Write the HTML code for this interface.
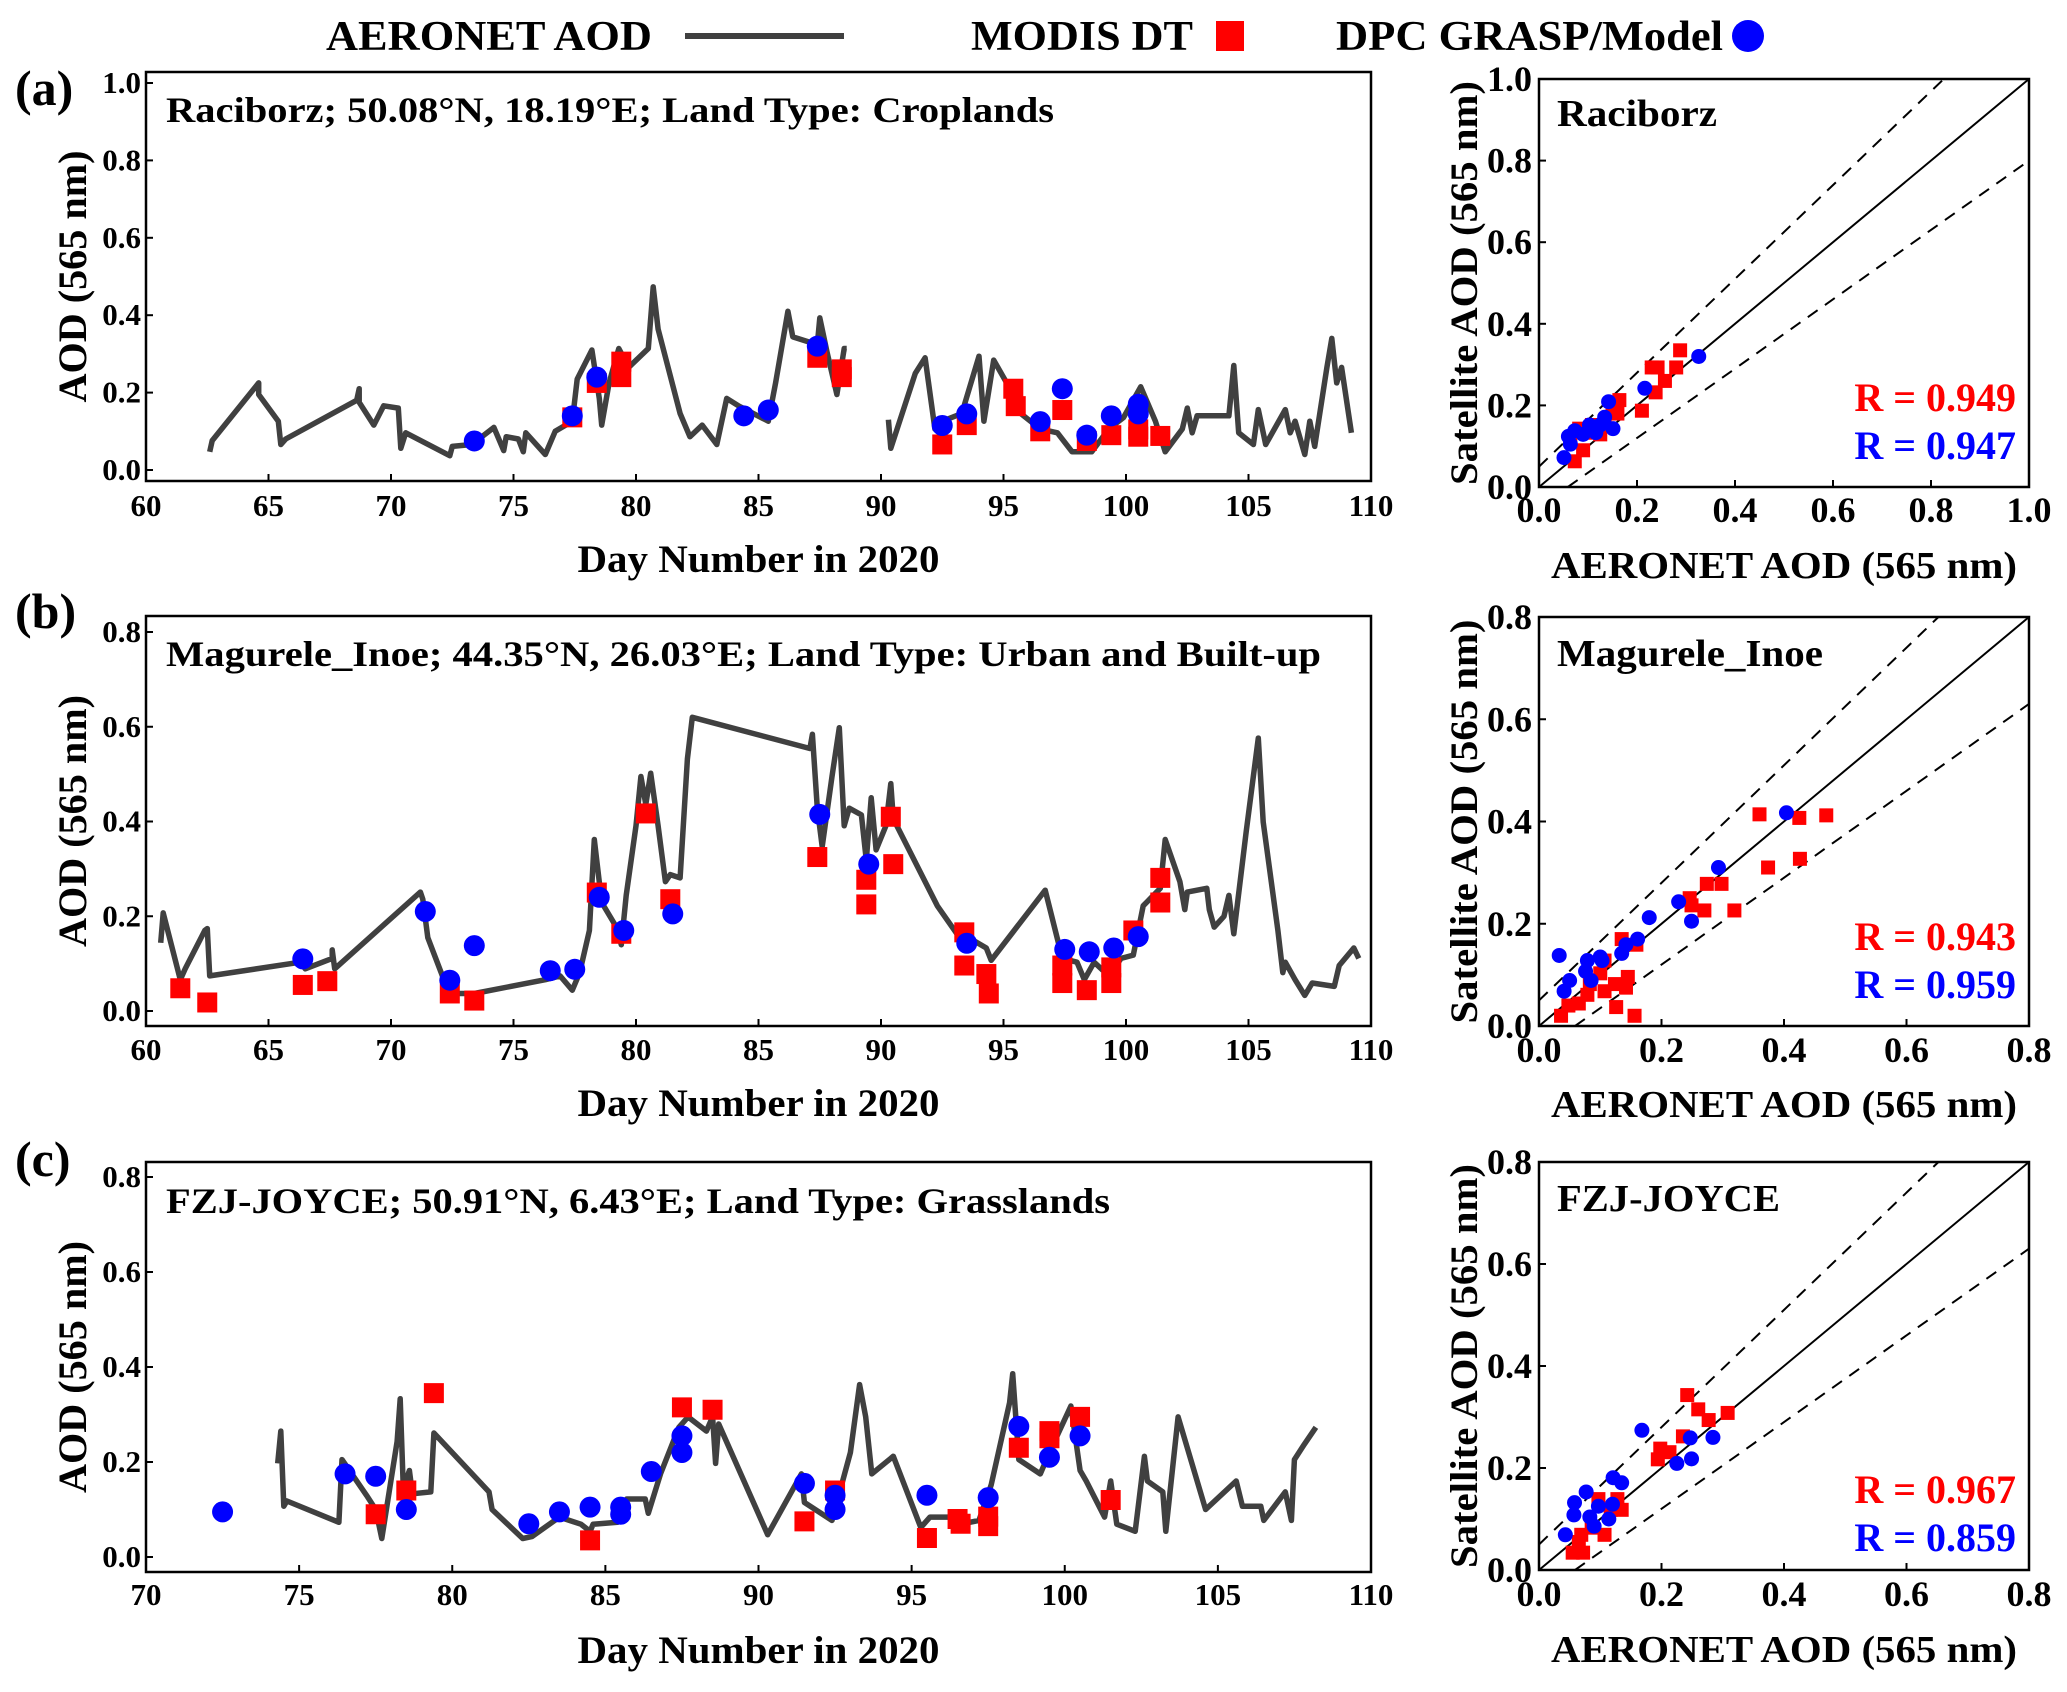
<!DOCTYPE html>
<html><head><meta charset="utf-8">
<style>
html,body{margin:0;padding:0;background:#fff;}
svg{display:block;font-family:"Liberation Serif","Times New Roman",serif;font-weight:bold;}
</style></head>
<body>
<svg id="fig" width="2067" height="1692" viewBox="0 0 2067 1692" xmlns="http://www.w3.org/2000/svg">
  <rect x="0" y="0" width="2067" height="1692" fill="#fff"/>
  <g>
    <text x="326" y="50" font-size="42" textLength="326" lengthAdjust="spacingAndGlyphs">AERONET AOD</text>
    <line x1="685" y1="36" x2="844" y2="36" stroke="#404040" stroke-width="6"/>
    <text x="971" y="50" font-size="42" textLength="222" lengthAdjust="spacingAndGlyphs">MODIS DT</text>
    <rect x="1216" y="21" width="28" height="30" fill="#ff0000"/>
    <text x="1336" y="50" font-size="42" textLength="387" lengthAdjust="spacingAndGlyphs">DPC GRASP/Model</text>
    <circle cx="1748" cy="36" r="16" fill="#0000ff"/>
  </g>
  <g id="plots"></g>
</svg>
<script>
// ---------- Panel (a) Raciborz ----------
const aDays = [62.6,62.7,64.6,64.6,65.4,65.5,65.7,68.6,68.7,68.7,69.3,69.7,70.3,70.4,70.6,72.4,72.5,73.3,74.2,74.6,74.7,75.2,75.4,75.5,76.3,76.7,77.4,77.6,78.2,78.5,78.6,78.9,79.3,79.7,80.5,80.7,80.9,81.8,82.2,82.7,83.3,83.7,84.2,85.4,85.7,86.2,86.4,87.4,87.5,87.8,88.2,88.5,88.6,null,90.3,90.4,91.4,91.8,92.2,92.5,93.3,94.0,94.2,94.6,95.4,95.7,96.5,97.2,97.8,98.6,99.3,99.9,100.6,101.2,101.6,102.3,102.5,102.7,102.9,104.2,104.4,104.6,105.2,105.4,105.7,106.5,106.7,106.9,107.3,107.5,107.7,108.2,108.4,108.6,108.8,109.2];
const aAod = [0.047,0.076,0.225,0.195,0.126,0.066,0.08,0.18,0.21,0.175,0.116,0.166,0.16,0.056,0.096,0.037,0.061,0.066,0.11,0.05,0.086,0.08,0.047,0.096,0.04,0.1,0.126,0.235,0.31,0.185,0.116,0.225,0.314,0.265,0.314,0.473,0.364,0.146,0.086,0.116,0.066,0.185,0.165,0.126,0.225,0.41,0.344,0.324,0.393,0.304,0.195,0.314,0.314,null,0.13,0.056,0.25,0.29,0.106,0.126,0.146,0.294,0.126,0.284,0.195,0.146,0.106,0.096,0.047,0.047,0.106,0.136,0.215,0.126,0.047,0.106,0.16,0.096,0.14,0.14,0.27,0.096,0.066,0.156,0.066,0.156,0.096,0.126,0.04,0.126,0.061,0.265,0.34,0.225,0.265,0.096];
const aModisDays = [77.4,78.4,79.4,79.4,87.4,88.4,88.4,92.5,93.5,95.4,95.5,96.5,97.4,98.4,99.4,100.5,100.5,101.4];
const aModisAod = [0.136,0.225,0.24,0.28,0.29,0.24,0.26,0.066,0.116,0.21,0.165,0.1,0.155,0.075,0.09,0.086,0.105,0.088];
const aDpcDays = [73.4,77.4,78.4,84.4,85.4,87.4,92.5,93.5,96.5,97.4,98.4,99.4,100.5,100.5];
const aDpcAod = [0.075,0.14,0.24,0.14,0.155,0.32,0.115,0.145,0.125,0.21,0.09,0.14,0.145,0.17];
const aScModisX = [0.073,0.09,0.1,0.125,0.134,0.16,0.164,0.15,0.21,0.23,0.242,0.238,0.257,0.28,0.288,0.082,0.064,0.108];
const aScModisY = [0.063,0.09,0.133,0.129,0.152,0.18,0.213,0.2,0.187,0.293,0.293,0.232,0.26,0.293,0.335,0.143,0.115,0.152];
const aScDpcX = [0.051,0.064,0.073,0.09,0.103,0.116,0.134,0.142,0.151,0.216,0.326,0.125,0.06];
const aScDpcY = [0.072,0.105,0.138,0.129,0.152,0.133,0.171,0.209,0.143,0.242,0.32,0.152,0.124];

// ---------- Panel (b) Magurele_Inoe ----------
const bDays = [60.6,60.7,61.4,61.6,62.4,62.5,62.6,66.3,66.5,67.6,67.6,67.7,71.2,71.3,71.5,72.1,72.5,73.4,76.3,76.9,77.4,77.7,78.1,78.3,78.6,79.2,79.4,79.6,80.0,80.2,80.4,80.6,80.9,81.2,81.4,81.8,82.1,82.3,87.1,87.2,87.4,87.6,88.0,88.3,88.5,88.7,89.2,89.4,89.6,89.8,90.2,90.4,90.5,92.3,93.1,93.8,94.3,94.5,96.7,97.4,98.0,98.3,98.7,99.3,99.8,100.3,100.7,101.4,101.6,102.2,102.4,102.5,103.3,103.4,103.6,104.0,104.2,104.4,104.9,105.4,105.6,106.2,106.4,106.5,106.9,107.3,107.6,108.5,108.7,109.3,109.5];
const bAod = [0.144,0.207,0.066,0.089,0.17,0.174,0.074,0.103,0.089,0.111,0.129,0.089,0.251,0.236,0.155,0.074,0.037,0.037,0.066,0.074,0.044,0.081,0.17,0.362,0.229,0.177,0.14,0.244,0.391,0.495,0.436,0.502,0.391,0.273,0.288,0.281,0.532,0.62,0.554,0.584,0.428,0.347,0.495,0.598,0.391,0.428,0.414,0.318,0.45,0.34,0.391,0.48,0.406,0.222,0.163,0.148,0.133,0.107,0.255,0.111,0.103,0.066,0.103,0.074,0.111,0.118,0.222,0.259,0.362,0.273,0.214,0.251,0.259,0.214,0.177,0.2,0.244,0.163,0.377,0.576,0.399,0.17,0.081,0.103,0.066,0.033,0.059,0.052,0.096,0.133,0.111];
const bModisDays = [61.4,62.5,66.4,67.4,72.4,73.4,78.4,79.4,80.4,81.4,87.4,89.4,89.4,90.4,90.5,93.4,93.4,94.3,94.4,97.4,97.4,98.4,99.4,99.4,100.3,101.4,101.4];
const bModisAod = [0.048,0.018,0.055,0.063,0.037,0.022,0.25,0.163,0.417,0.236,0.325,0.277,0.225,0.41,0.31,0.166,0.096,0.078,0.037,0.096,0.059,0.044,0.092,0.059,0.17,0.229,0.281];
const bDpcDays = [66.4,71.4,72.4,73.4,76.5,77.5,78.5,79.5,81.5,87.5,89.5,93.5,97.5,98.5,99.5,100.5];
const bDpcAod = [0.11,0.21,0.065,0.138,0.085,0.088,0.24,0.17,0.205,0.415,0.31,0.143,0.13,0.125,0.133,0.157];
const bScModisX = [0.036,0.048,0.065,0.079,0.083,0.1,0.107,0.107,0.124,0.126,0.142,0.145,0.156,0.135,0.159,0.246,0.249,0.27,0.274,0.298,0.319,0.374,0.36,0.425,0.426,0.469];
const bScModisY = [0.02,0.04,0.044,0.061,0.082,0.103,0.128,0.068,0.082,0.037,0.075,0.096,0.02,0.17,0.159,0.25,0.236,0.226,0.278,0.278,0.226,0.31,0.414,0.407,0.327,0.412];
const bScDpcX = [0.033,0.041,0.05,0.076,0.079,0.085,0.1,0.103,0.135,0.142,0.161,0.18,0.228,0.249,0.293,0.404];
const bScDpcY = [0.138,0.068,0.089,0.107,0.128,0.089,0.135,0.128,0.142,0.159,0.17,0.212,0.243,0.205,0.31,0.417];

// ---------- Panel (c) FZJ-JOYCE ----------
const cDays = [74.3,74.4,74.5,74.6,76.3,76.4,77.2,77.5,77.7,78.2,78.3,78.4,78.6,78.7,79.3,79.4,81.2,81.3,82.3,82.6,83.5,84.2,84.5,84.6,85.4,85.7,86.3,86.4,86.8,87.4,87.7,88.3,88.5,88.6,88.7,90.3,91.4,91.5,92.4,93.0,93.3,93.5,93.7,94.4,95.3,95.6,96.2,96.9,97.2,97.6,98.2,98.3,98.5,99.2,99.5,100.2,100.5,100.7,101.3,101.5,101.7,102.3,102.6,102.7,103.2,103.3,103.7,104.6,105.6,105.8,106.4,106.5,107.2,107.4,107.5,107.8,108.2];
const cAod = [0.197,0.265,0.107,0.118,0.073,0.205,0.13,0.1,0.039,0.243,0.333,0.145,0.182,0.133,0.137,0.261,0.137,0.1,0.039,0.043,0.084,0.069,0.054,0.069,0.073,0.122,0.122,0.092,0.175,0.273,0.295,0.265,0.295,0.197,0.28,0.047,0.175,0.115,0.077,0.22,0.363,0.295,0.175,0.212,0.062,0.084,0.084,0.073,0.077,0.152,0.325,0.386,0.205,0.175,0.22,0.318,0.182,0.16,0.084,0.16,0.069,0.054,0.212,0.16,0.137,0.054,0.295,0.1,0.16,0.107,0.107,0.077,0.137,0.077,0.205,0.235,0.273];
const cModisDays = [77.5,78.5,79.4,84.5,87.5,88.5,91.5,92.5,95.5,96.5,96.6,97.5,97.5,98.5,99.5,99.5,100.5,101.5];
const cModisAod = [0.09,0.14,0.345,0.035,0.315,0.31,0.075,0.14,0.04,0.08,0.07,0.085,0.065,0.23,0.25,0.265,0.295,0.12];
const cDpcDays = [72.5,76.5,77.5,78.5,82.5,83.5,84.5,85.5,85.5,86.5,87.5,87.5,91.5,92.5,92.5,95.5,97.5,98.5,99.5,100.5];
const cDpcAod = [0.095,0.175,0.17,0.1,0.07,0.095,0.105,0.09,0.105,0.18,0.22,0.255,0.155,0.13,0.1,0.13,0.125,0.275,0.21,0.255];
const cScModisX = [0.055,0.072,0.069,0.086,0.097,0.107,0.117,0.128,0.135,0.194,0.198,0.213,0.235,0.242,0.26,0.277,0.308,0.065];
const cScModisY = [0.034,0.034,0.069,0.083,0.139,0.069,0.118,0.139,0.118,0.217,0.238,0.231,0.262,0.343,0.315,0.294,0.308,0.055];
const cScDpcX = [0.043,0.057,0.058,0.077,0.083,0.09,0.097,0.114,0.12,0.121,0.135,0.168,0.225,0.247,0.249,0.284];
const cScDpcY = [0.069,0.108,0.132,0.153,0.104,0.086,0.125,0.1,0.129,0.181,0.171,0.274,0.209,0.259,0.218,0.26];

const rModis = ["R = 0.949","R = 0.943","R = 0.967"];
const rDpc = ["R = 0.947","R = 0.959","R = 0.859"];
const tsTitles = ["Raciborz; 50.08°N, 18.19°E; Land Type: Croplands","Magurele_Inoe; 44.35°N, 26.03°E; Land Type: Urban and Built-up","FZJ-JOYCE; 50.91°N, 6.43°E; Land Type: Grasslands"];
const stations = ["Raciborz","Magurele_Inoe","FZJ-JOYCE"];
const panelLetters = ["(a)","(b)","(c)"];
const yTicksA = [0,0.2,0.4,0.6,0.8,1.0];
const yTicksBC = [0,0.2,0.4,0.6,0.8];
const xTicksAB = [60,65,70,75,80,85,90,95,100,105,110];
const xTicksC = [70,75,80,85,90,95,100,105,110];

const NS = "http://www.w3.org/2000/svg";
const root = document.getElementById("plots");
function mk(tag, attrs, parent){const e=document.createElementNS(NS,tag);for(const k in attrs)e.setAttribute(k,attrs[k]);(parent||root).appendChild(e);return e;}
function txt(s, attrs, parent){const e=mk("text",attrs,parent);e.textContent=s;return e;}

const stationW=[160,266,223];
const layouts = [
 {top:72,bottom:481,y0:470,yTopV:1.0,yTopPx:83,xmin:60,xmax:110,xTicks:xTicksAB,yTicks:yTicksA,letterY:105,titleY:122,titleW:888,tickBase:516,labBase:572,
  sTop:79,sBottom:487,sMax:1.0,stY:126,r1:411,r2:459,sxBase:522,sLabBase:578,
  days:aDays,aod:aAod,md:aModisDays,ma:aModisAod,dd:aDpcDays,da:aDpcAod,smx:aScModisX,smy:aScModisY,sdx:aScDpcX,sdy:aScDpcY},
 {top:616,bottom:1026,y0:1011,yTopV:0.8,yTopPx:632,xmin:60,xmax:110,xTicks:xTicksAB,yTicks:yTicksBC,letterY:628,titleY:666,titleW:1155,tickBase:1060,labBase:1116,
  sTop:617,sBottom:1026,sMax:0.8,stY:666,r1:950,r2:998,sxBase:1062,sLabBase:1117,
  days:bDays,aod:bAod,md:bModisDays,ma:bModisAod,dd:bDpcDays,da:bDpcAod,smx:bScModisX,smy:bScModisY,sdx:bScDpcX,sdy:bScDpcY},
 {top:1162,bottom:1572,y0:1557,yTopV:0.8,yTopPx:1177,xmin:70,xmax:110,xTicks:xTicksC,yTicks:yTicksBC,letterY:1176,titleY:1213,titleW:944,tickBase:1605,labBase:1663,
  sTop:1162,sBottom:1570,sMax:0.8,stY:1211,r1:1503,r2:1551,sxBase:1606,sLabBase:1662,
  days:cDays,aod:cAod,md:cModisDays,ma:cModisAod,dd:cDpcDays,da:cDpcAod,smx:cScModisX,smy:cScModisY,sdx:cScDpcX,sdy:cScDpcY}
];
const L=146,R=1371,SL=1539,SR=2029;
const pn=["a","b","c"];

layouts.forEach((p,i)=>{
  const g=mk("g",{});
  
  
  const xs=d=>L+(d-p.xmin)/(p.xmax-p.xmin)*(R-L);
  const ys=v=>p.y0-(v/p.yTopV)*(p.y0-p.yTopPx);
  const let_=txt(panelLetters[i],{x:15,y:p.letterY,"font-size":50},g);
  
  
  const fr=mk("rect",{x:L,y:p.top,width:R-L,height:p.bottom-p.top,fill:"none",stroke:"#000","stroke-width":2.5},g);
  
  
  p.yTicks.forEach(v=>{
    const y=ys(v);
    mk("line",{x1:L,y1:y,x2:L+7,y2:y,stroke:"#000","stroke-width":2},g);
    const t=txt(v.toFixed(1),{x:141,y:y+10,"font-size":31,"text-anchor":"end"},g);
    
    
  });
  p.xTicks.forEach(v=>{
    const x=xs(v);
    mk("line",{x1:x,y1:p.bottom,x2:x,y2:p.bottom-7,stroke:"#000","stroke-width":2},g);
    const t=txt(String(v),{x:x,y:p.tickBase,"font-size":31,"text-anchor":"middle"},g);
    
    
  });
  const tt=txt(tsTitles[i],{x:166,y:p.titleY,"font-size":36,textLength:p.titleW,lengthAdjust:"spacingAndGlyphs"},g);
  
  
  const xl=txt("Day Number in 2020",{x:(L+R)/2,y:p.labBase,"font-size":39,"text-anchor":"middle",textLength:362,lengthAdjust:"spacingAndGlyphs"},g);
  
  
  const yc=(p.top+p.bottom)/2;
  const yl=txt("AOD (565 nm)",{x:0,y:0,"font-size":40,"text-anchor":"middle",textLength:252,lengthAdjust:"spacingAndGlyphs",transform:`translate(86,${yc}) rotate(-90)`},g);
  
  
  let d="",pen=false;
  for(let k=0;k<p.days.length;k++){
    if(p.days[k]===null||p.aod[k]===null){pen=false;continue;}
    d+=(pen?"L":"M")+xs(p.days[k]).toFixed(1)+" "+ys(p.aod[k]).toFixed(1)+" ";pen=true;
  }
  const ln=mk("path",{d:d,fill:"none",stroke:"#404040","stroke-width":5.5,"stroke-linejoin":"round"},g);
  
  
  p.md.forEach((dv,k)=>{
    const r=mk("rect",{x:xs(dv)-10,y:ys(p.ma[k])-10,width:20,height:20,fill:"#ff0000"},g);
    
    
  });
  p.dd.forEach((dv,k)=>{
    const c=mk("circle",{cx:xs(dv),cy:ys(p.da[k]),r:10.5,fill:"#0000ff"},g);
    
    
  });

  const sg=mk("g",{});
  
  
  const sx=v=>SL+v/p.sMax*(SR-SL);
  const sy=v=>p.sBottom-v/p.sMax*(p.sBottom-p.sTop);
  const cp=mk("clipPath",{id:"clip"+i},sg);
  mk("rect",{x:SL,y:p.sTop,width:SR-SL,height:p.sBottom-p.sTop},cp);
  const lg=mk("g",{"clip-path":`url(#clip${i})`},sg);
  const M=p.sMax;
  const one=mk("line",{x1:sx(0),y1:sy(0),x2:sx(M),y2:sy(M),stroke:"#000","stroke-width":2},lg);
  
  
  const up=mk("line",{x1:sx(0),y1:sy(0.05),x2:sx((M-0.05)/1.15),y2:sy(M),stroke:"#000","stroke-width":2,"stroke-dasharray":"12 9"},lg);
  
  
  const lo=mk("line",{x1:sx(0.05/0.85),y1:sy(0),x2:sx(M),y2:sy(0.85*M-0.05),stroke:"#000","stroke-width":2,"stroke-dasharray":"12 9"},lg);
  
  
  const sf=mk("rect",{x:SL,y:p.sTop,width:SR-SL,height:p.sBottom-p.sTop,fill:"none",stroke:"#000","stroke-width":2.5},sg);
  
  
  const st=[];for(let v=0;v<=M+1e-9;v+=0.2)st.push(+v.toFixed(1));
  st.forEach(v=>{
    mk("line",{x1:SL,y1:sy(v),x2:SL+7,y2:sy(v),stroke:"#000","stroke-width":2},sg);
    mk("line",{x1:sx(v),y1:p.sBottom,x2:sx(v),y2:p.sBottom-7,stroke:"#000","stroke-width":2},sg);
    const a=txt(v.toFixed(1),{x:1532,y:sy(v)+12,"font-size":36,"text-anchor":"end"},sg);
    
    
    const b=txt(v.toFixed(1),{x:sx(v),y:p.sxBase,"font-size":36,"text-anchor":"middle"},sg);
    
    
  });
  const sn=txt(stations[i],{x:1557,y:p.stY,"font-size":38,textLength:stationW[i],lengthAdjust:"spacingAndGlyphs"},sg);
  
  
  const sxl=txt("AERONET AOD (565 nm)",{x:1551,y:p.sLabBase,"font-size":38,textLength:466,lengthAdjust:"spacingAndGlyphs"},sg);
  
  
  const syl=txt("Satellite AOD (565 nm)",{x:0,y:0,"font-size":39,"text-anchor":"middle",textLength:404,lengthAdjust:"spacingAndGlyphs",transform:`translate(1477,${(p.sTop+p.sBottom)/2}) rotate(-90)`},sg);
  
  
  p.smx.forEach((v,k)=>{
    const r=mk("rect",{x:sx(v)-7,y:sy(p.smy[k])-7,width:14,height:14,fill:"#ff0000"},sg);
    
    
  });
  p.sdx.forEach((v,k)=>{
    const c=mk("circle",{cx:sx(v),cy:sy(p.sdy[k]),r:7.5,fill:"#0000ff"},sg);
    
    
  });
  const r1=txt(rModis[i],{x:2016,y:p.r1,"font-size":40,"text-anchor":"end",fill:"#ff0000"},sg);
  
  
  const r2=txt(rDpc[i],{x:2016,y:p.r2,"font-size":40,"text-anchor":"end",fill:"#0000ff"},sg);
  
  
});
</script>
</body></html>
